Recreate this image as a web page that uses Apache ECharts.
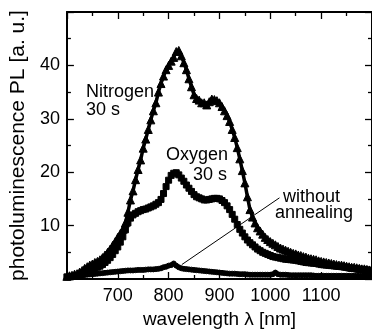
<!DOCTYPE html>
<html><head><meta charset="utf-8">
<script src="https://cdn.jsdelivr.net/npm/echarts@6/dist/echarts.min.js"></script>
<style>html,body{margin:0;padding:0;background:#fff;}#c{width:372px;height:334px;}</style>
</head><body><div id="c"></div>
<script>
const wavelengths = [
 600,605,610,615,620,625,630,635,640,645,
 650,655,660,665,670,675,680,685,690,695,
 700,705,710,715,720,725,730,735,740,745,
 750,755,760,765,770,775,780,785,790,795,
 800,805,810,815,820,825,830,835,840,845,
 850,855,860,865,870,875,880,885,890,895,
 900,905,910,915,920,925,930,935,940,945,
 950,955,960,965,970,975,980,985,990,995,
 1000,1005,1010,1015,1020,1025,1030,1035,1040,1045,
 1050,1055,1060,1065,1070,1075,1080,1085,1090,1095,
 1100,1105,1110,1115,1120,1125,1130,1135,1140,1145,
 1150,1155,1160,1165,1170,1175,1180,1185,1190,1195];
const nitrogen = [
 0.5,0.6,0.7,0.9,1.0,1.3,1.6,2.0,2.3,2.6,
 2.8,3.1,3.3,3.6,4.0,4.5,5.0,5.6,6.3,7.0,
 7.8,8.5,9.3,10.5,12.5,14.8,16.5,18.6,20.5,22.3,
 24.5,26.2,28.0,29.8,31.5,33.0,35.0,36.6,38.0,39.2,
 40.0,40.8,41.5,42.6,42.8,41.8,40.5,39.2,37.5,36.0,
 34.5,33.8,33.5,33.0,33.0,32.6,33.2,33.7,33.6,33.4,
 33.0,32.3,31.5,30.6,29.5,28.0,26.5,24.6,22.5,20.3,
 18.0,15.4,13.0,11.6,10.5,9.6,9.0,8.4,7.8,7.4,
 7.0,6.7,6.4,6.1,5.8,5.6,5.4,5.2,5.0,4.8,
 4.7,4.5,4.4,4.2,4.1,3.9,3.8,3.7,3.6,3.4,
 3.3,3.2,3.1,3.0,2.9,2.8,2.7,2.6,2.6,2.5,
 2.4,2.3,2.2,2.2,2.1,2.0,1.9,1.9,1.8,1.7];
const oxygen = [
 0.4,0.45,0.5,0.55,0.6,0.75,0.9,1.1,1.3,1.5,
 1.7,1.9,2.2,2.4,2.7,3.1,3.5,4.0,4.6,5.3,
 6.0,6.9,7.9,9.2,10.5,11.4,12.0,12.3,12.6,12.8,
 13.0,13.1,13.3,13.5,13.7,14.0,14.3,14.9,16.0,17.3,
 18.5,19.4,19.8,19.9,19.5,18.9,18.3,17.6,17.0,16.4,
 15.8,15.4,15.2,15.0,14.8,14.8,14.9,15.0,15.1,15.1,
 15.0,14.7,14.3,13.7,13.0,12.1,11.2,10.2,9.3,8.6,
 7.9,7.3,6.8,6.4,6.0,5.6,5.3,5.0,4.8,4.6,
 4.4,4.2,4.1,4.0,3.9,3.8,3.7,3.65,3.6,3.55,
 3.5,3.4,3.3,3.2,3.1,3.05,3.0,2.95,2.9,2.8,
 2.7,2.65,2.6,2.55,2.5,2.45,2.4,2.35,2.3,2.25,
 2.2,2.1,2.0,1.95,1.9,1.85,1.8,1.75,1.7,1.65];
const withoutAnnealing = [
 0.4,0.45,0.5,0.55,0.6,0.65,0.7,0.75,0.8,0.85,
 0.9,0.95,1.0,1.05,1.1,1.15,1.2,1.25,1.3,1.35,
 1.4,1.45,1.5,1.55,1.6,1.6,1.6,1.65,1.7,1.7,
 1.7,1.75,1.8,1.8,1.8,1.85,1.9,2.0,2.2,2.3,
 2.5,2.6,2.9,2.5,2.2,2.0,1.9,1.85,1.8,1.75,
 1.7,1.65,1.6,1.55,1.5,1.45,1.4,1.35,1.3,1.25,
 1.2,1.15,1.1,1.05,1.0,1.0,1.0,0.95,0.9,0.9,
 0.9,0.85,0.8,0.8,0.8,0.8,0.8,0.8,0.8,0.8,
 0.8,0.9,1.2,0.9,0.8,0.8,0.8,0.75,0.7,0.7,
 0.7,0.7,0.7,0.7,0.7,0.7,0.7,0.65,0.6,0.6,
 0.6,0.6,0.6,0.6,0.6,0.6,0.6,0.6,0.6,0.6,
 0.6,0.6,0.6,0.6,0.6,0.6,0.6,0.6,0.6,0.6];
const xTicks = {min:600, max:1200, interval:100};
const yTicks = {min:0, max:50, interval:10};
const leaderLine = [[826, 2.7], [1018, 15.2]];

const FONT = 'Liberation Sans';
const pair = (xs, ys) => xs.map((x,i)=>[x, ys[i]]);
const chart = echarts.init(document.getElementById('c'), null, {renderer:'canvas'});
const axisCommon = {
  axisLine:{show:true, onZero:false, lineStyle:{color:'#000', width:2}},
  axisTick:{show:true, inside:true, length:7, lineStyle:{color:'#000', width:1.3}},
  minorTick:{show:true, splitNumber:2, length:4, lineStyle:{color:'#000', width:1.3}},
  splitLine:{show:false}
};
const mkSeries = (name, data, symbol, size) => ({
  name, type:'line', data: pair(wavelengths, data), symbol, symbolSize:size,
  showAllSymbol:true, smooth:false,
  lineStyle:{color:'#000', width:3.5}, itemStyle:{color:'#000', borderColor:'#000'},
  animation:false, z:3
});
const option = {
  animation:false,
  grid:{left:62, right:-4, top:12, bottom:54, containLabel:false},
  xAxis:[
    Object.assign({type:'value', min:xTicks.min, max:xTicks.max, interval:xTicks.interval, position:'bottom',
      name:'wavelength λ [nm]', nameLocation:'middle', nameGap:31,
      nameTextStyle:{fontFamily:FONT, fontSize:19, color:'#000'},
      axisLabel:{showMinLabel:false, showMaxLabel:false, fontFamily:FONT, fontSize:18, color:'#000', margin:8,
        formatter:v=>String(v)}}, axisCommon),
    Object.assign({type:'value', min:xTicks.min, max:xTicks.max, interval:xTicks.interval, position:'top',
      axisLabel:{show:false}}, axisCommon)
  ],
  yAxis:[
    Object.assign({type:'value', min:yTicks.min, max:yTicks.max, interval:yTicks.interval, position:'left',
      name:'photoluminescence PL [a. u.]', nameLocation:'middle', nameGap:28,
      nameTextStyle:{fontFamily:FONT, fontSize:21, color:'#000'},
      axisLabel:{showMinLabel:false, showMaxLabel:false, fontFamily:FONT, fontSize:18, color:'#000', margin:7,
        formatter:v=>String(v)}}, axisCommon),
    Object.assign({type:'value', min:yTicks.min, max:yTicks.max, interval:yTicks.interval, position:'right',
      axisLabel:{show:false}}, axisCommon)
  ],
  series:[
    mkSeries('Nitrogen 30 s', nitrogen, 'triangle', 8),
    mkSeries('Oxygen 30 s', oxygen, 'rect', 6),
    Object.assign(mkSeries('without annealing', withoutAnnealing, 'circle', 5), {
      markLine:{silent:true, symbol:['none','none'], label:{show:false},
        lineStyle:{color:'#000', width:1, type:'solid'},
        data:[[{coord:leaderLine[0]}, {coord:leaderLine[1]}]]}
    })
  ],
  graphic:[
    {type:'text', left:86, top:83, style:{text:'Nitrogen\n30 s', font:'18px "Liberation Sans"', fill:'#000', lineHeight:18}},
    {type:'text', left:166, top:146, style:{text:'Oxygen', font:'18px "Liberation Sans"', fill:'#000'}},
    {type:'text', left:193, top:166, style:{text:'30 s', font:'18px "Liberation Sans"', fill:'#000'}},
    {type:'text', left:283, top:188, style:{text:'without', font:'18px "Liberation Sans"', fill:'#000'}},
    {type:'text', left:275, top:204, style:{text:'annealing', font:'18px "Liberation Sans"', fill:'#000'}}
  ]
};
chart.setOption(option);
</script></body></html>
